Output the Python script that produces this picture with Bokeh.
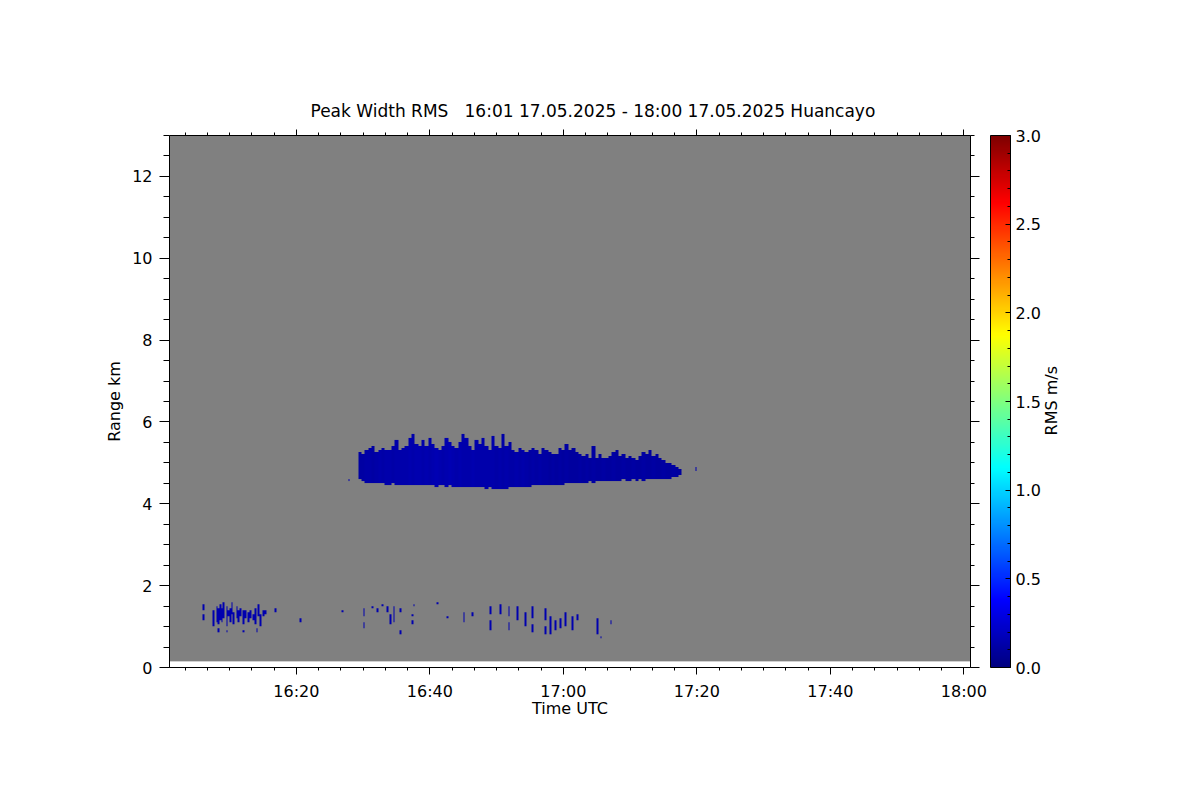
import numpy as np
from bokeh.plotting import figure
from bokeh.models import (LinearAxis, FixedTicker, ColorBar, LinearColorMapper,
                          Range1d, PrintfTickFormatter, CustomJSTickFormatter)
from bokeh.embed import file_html
from bokeh.resources import INLINE

NB = "\u00a0"
TITLE = "Peak Width RMS" + NB * 3 + "16:01 17.05.2025 - 18:00 17.05.2025 Huancayo"
X_LABEL = "Time UTC"
Y_LABEL = "Range km"
CB_LABEL = "RMS m/s"

# ---- extents: time in minutes after 16:00 UTC, range in km ----
time_start_min = 1.0      # 16:01
time_end_min = 121.0      # 18:01
range_min_km = 0.0
range_max_km = 13.0
gate_first_km = 0.15      # first range gate
time_step_min = 0.25
gate_step_km = 0.05

x_tick_min = [20, 40, 60, 80, 100, 120]
x_tick_labels = ["16:20", "16:40", "17:00", "17:20", "17:40", "18:00"]
y_tick_km = [0, 2, 4, 6, 8, 10, 12]
rms_ticks = [0.0, 0.5, 1.0, 1.5, 2.0, 2.5, 3.0]
rms_low, rms_high = 0.0, 3.0

# ---- main cloud layer (~4.4-5.7 km), 0.5-min bins from 16:29.5 ----
layer_start_min = 29.5
layer_bin_min = 0.5
layer_top_km = [
    5.27, 5.22, 5.30, 5.36, 5.39, 5.25, 5.30, 5.34, 5.32, 5.28,
    5.40, 5.56, 5.30, 5.36, 5.42, 5.58, 5.70, 5.45, 5.40, 5.56,
    5.38, 5.58, 5.45, 5.36, 5.30, 5.42, 5.61, 5.50, 5.41, 5.34,
    5.48, 5.71, 5.60, 5.38, 5.30, 5.56, 5.44, 5.58, 5.40, 5.32,
    5.66, 5.42, 5.36, 5.68, 5.40, 5.49, 5.30, 5.26, 5.37, 5.30,
    5.25, 5.30, 5.35, 5.28, 5.22, 5.33, 5.30, 5.25, 5.20, 5.18,
    5.35, 5.30, 5.46, 5.30, 5.33, 5.25, 5.20, 5.15, 5.20, 5.10,
    5.40, 5.12, 5.20, 5.10, 5.08, 5.17, 5.25, 5.32, 5.15, 5.20,
    5.10, 5.17, 5.12, 5.05, 5.15, 5.25, 5.20, 5.31, 5.15, 5.20,
    5.10, 5.05, 5.00, 4.98, 4.96, 4.90, 4.85,
]
layer_base_km = [
    4.62, 4.56, 4.52, 4.50, 4.52, 4.50, 4.48, 4.50, 4.47, 4.46,
    4.48, 4.46, 4.45, 4.46, 4.44, 4.46, 4.45, 4.44, 4.46, 4.44,
    4.45, 4.43, 4.44, 4.42, 4.44, 4.43, 4.42, 4.44, 4.42, 4.41,
    4.42, 4.40, 4.41, 4.39, 4.40, 4.38, 4.40, 4.38, 4.37, 4.38,
    4.36, 4.37, 4.35, 4.34, 4.36, 4.38, 4.40, 4.41, 4.40, 4.42,
    4.41, 4.42, 4.43, 4.44, 4.43, 4.44, 4.45, 4.44, 4.45, 4.46,
    4.45, 4.47, 4.48, 4.50, 4.49, 4.50, 4.52, 4.50, 4.52, 4.53,
    4.52, 4.54, 4.53, 4.55, 4.56, 4.55, 4.56, 4.57, 4.56, 4.58,
    4.56, 4.57, 4.58, 4.57, 4.58, 4.57, 4.58, 4.60, 4.58, 4.60,
    4.60, 4.62, 4.60, 4.62, 4.64, 4.66, 4.68,
]
layer_rms = [
    0.11, 0.11, 0.12, 0.12, 0.11, 0.12, 0.13, 0.12, 0.13, 0.13,
    0.12, 0.13, 0.14, 0.13, 0.14, 0.15, 0.14, 0.15, 0.15, 0.14,
    0.15, 0.14, 0.15, 0.16, 0.15, 0.14, 0.15, 0.16, 0.15, 0.14,
    0.15, 0.14, 0.13, 0.14, 0.15, 0.14, 0.13, 0.14, 0.13, 0.14,
    0.13, 0.12, 0.13, 0.12, 0.13, 0.12, 0.12, 0.13, 0.12, 0.13,
    0.12, 0.11, 0.12, 0.11, 0.12, 0.11, 0.11, 0.10, 0.11, 0.10,
    0.11, 0.10, 0.11, 0.10, 0.10, 0.10, 0.11, 0.10, 0.11, 0.10,
    0.11, 0.10, 0.10, 0.11, 0.10, 0.10, 0.11, 0.10, 0.10, 0.11,
    0.10, 0.10, 0.11, 0.10, 0.10, 0.11, 0.10, 0.10, 0.11, 0.10,
    0.10, 0.11, 0.10, 0.10, 0.11, 0.10, 0.10,
]

# ---- sparse echoes (boundary layer ~1-1.5 km and isolated cells) ----
echo_t_min = [
    6.1, 6.1, 7.7, 8.0, 8.3, 8.6, 8.9, 9.2, 9.5, 9.8, 10.1, 10.4, 10.7, 11.0,
    11.3, 11.7, 12.0, 12.4, 12.8, 13.1, 13.5, 13.9, 14.3, 14.6, 15.0, 15.4,
    16.9, 8.4, 9.6, 12.0, 14.0, 20.6, 26.8, 30.2, 30.2, 31.4, 32.0, 32.9,
    33.7, 34.1, 34.7, 35.5, 35.5, 37.4, 37.4, 37.6, 41.1, 42.6, 45.2, 46.4,
    49.1, 49.1, 50.6, 51.8, 51.8, 53.1, 54.3, 55.4, 55.4, 57.3, 57.3, 58.1,
    58.8, 59.6, 60.3, 61.4, 62.1, 65.1, 65.6, 67.1, 27.8, 79.9,
]
echo_bottom_km = [
    1.15, 1.40, 1.00, 1.10, 1.05, 1.15, 1.08, 1.20, 1.00, 1.25, 1.10, 1.30, 1.05, 1.20,
    1.12, 1.25, 1.05, 1.20, 1.10, 1.20, 1.15, 1.05, 1.25, 1.00, 1.25, 1.30,
    1.35, 0.86, 0.86, 0.86, 0.86, 1.12, 1.36, 1.27, 0.95, 1.45, 1.35, 1.50,
    1.35, 1.05, 1.10, 1.35, 0.82, 1.25, 1.05, 1.50, 1.53, 1.20, 1.12, 1.27,
    0.92, 1.30, 1.32, 0.92, 1.25, 1.15, 1.02, 0.85, 1.20, 0.78, 1.15, 0.78,
    0.90, 0.95, 1.02, 0.90, 1.15, 0.78, 0.68, 1.07, 4.55, 4.78,
]
echo_top_km = [
    1.30, 1.56, 1.40, 1.50, 1.46, 1.55, 1.44, 1.58, 1.50, 1.40, 1.45, 1.58, 1.35, 1.52,
    1.40, 1.45, 1.38, 1.40, 1.35, 1.42, 1.32, 1.45, 1.55, 1.30, 1.40, 1.40,
    1.45, 0.93, 0.92, 0.92, 0.93, 1.18, 1.42, 1.46, 1.10, 1.52, 1.45, 1.56,
    1.50, 1.30, 1.50, 1.45, 0.88, 1.32, 1.15, 1.56, 1.59, 1.26, 1.37, 1.37,
    1.15, 1.50, 1.56, 1.10, 1.50, 1.50, 1.37, 1.05, 1.50, 1.00, 1.46, 1.27,
    1.15, 1.22, 1.34, 1.27, 1.32, 1.22, 0.74, 1.13, 4.62, 4.90,
]
echo_rms = [0.15] * len(echo_t_min)

# ---- jet colormap ----
def jet(n):
    cols = []
    for i in range(n):
        v = i / (n - 1)
        r = min(max(1.5 - abs(4 * v - 3), 0), 1)
        g = min(max(1.5 - abs(4 * v - 2), 0), 1)
        b = min(max(1.5 - abs(4 * v - 1), 0), 1)
        cols.append("#%02x%02x%02x" % (int(r * 255), int(g * 255), int(b * 255)))
    return cols

palette = jet(256)
mapper = LinearColorMapper(palette=palette, low=rms_low, high=rms_high, nan_color="#808080")

# ---- build the range-time image from the arrays ----
nx = int(round((time_end_min - time_start_min) / time_step_min))
ny = int(round((range_max_km - gate_first_km) / gate_step_km))
tc = time_start_min + (np.arange(nx) + 0.5) * time_step_min
rc = gate_first_km + (np.arange(ny) + 0.5) * gate_step_km
grid = np.full((ny, nx), np.nan)
for i, (top, base, v) in enumerate(zip(layer_top_km, layer_base_km, layer_rms)):
    t = layer_start_min + i * layer_bin_min
    cols = (tc >= t - layer_bin_min / 2) & (tc < t + layer_bin_min / 2)
    rows = (rc >= base) & (rc <= top)
    grid[np.ix_(rows, cols)] = v
for t, b, top, v in zip(echo_t_min, echo_bottom_km, echo_top_km, echo_rms):
    col = int((t - time_start_min) // time_step_min)
    rows = (rc >= b) & (rc <= top)
    grid[rows, col] = v

FONT = "DejaVu Sans"
FS = "16px"

p = figure(frame_width=801, frame_height=532,
           min_border_left=169, min_border_right=222,
           min_border_top=135, min_border_bottom=125,
           x_range=Range1d(time_start_min, time_end_min),
           y_range=Range1d(range_min_km, range_max_km),
           output_backend="svg", toolbar_location=None,
           x_axis_location=None, y_axis_location=None)
p.background_fill_color = "white"
p.border_fill_color = "white"
p.outline_line_color = None
p.xgrid.grid_line_color = None
p.ygrid.grid_line_color = None

p.image(image=[grid], x=time_start_min, y=gate_first_km,
        dw=time_end_min - time_start_min, dh=range_max_km - gate_first_km,
        color_mapper=mapper)

x_minor = list(np.arange(0, 122, 20 / 6))
y_minor = list(np.arange(0, 13.01, 0.5))
xt = FixedTicker(ticks=x_tick_min, minor_ticks=x_minor)
yt = FixedTicker(ticks=y_tick_km, minor_ticks=y_minor)
blank = CustomJSTickFormatter(code="return ''")


def style(ax, major, minor):
    ax.axis_line_color = "black"
    ax.major_tick_line_color = "black"
    ax.minor_tick_line_color = "black"
    ax.major_tick_in = 0
    ax.minor_tick_in = 0
    ax.major_tick_out = major
    ax.minor_tick_out = minor
    ax.major_label_text_font = FONT
    ax.major_label_text_font_size = FS
    ax.major_label_text_color = "black"
    ax.axis_label_text_font = FONT
    ax.axis_label_text_font_size = FS
    ax.axis_label_text_font_style = "normal"
    ax.axis_label_text_color = "black"


xb = LinearAxis(ticker=xt, axis_label=X_LABEL,
                major_label_overrides={v: s for v, s in zip(x_tick_min, x_tick_labels)})
style(xb, 7, 3)
xb.major_label_standoff = 7
xb.axis_label_standoff = -5
p.add_layout(xb, "below")

xa = LinearAxis(ticker=xt, formatter=blank)
style(xa, 6, 3)
xa.major_label_standoff = 0
p.add_layout(xa, "above")

yl = LinearAxis(ticker=yt, axis_label=Y_LABEL)
style(yl, 10, 6)
yl.major_label_standoff = 7
yl.axis_label_standoff = 5
p.add_layout(yl, "left")

yr = LinearAxis(ticker=yt, formatter=blank)
style(yr, 9, 4)
yr.major_label_standoff = 0
p.add_layout(yr, "right")

cb = ColorBar(color_mapper=LinearColorMapper(palette=palette, low=rms_low, high=rms_high),
              ticker=FixedTicker(ticks=rms_ticks, minor_ticks=list(np.arange(0, 3.01, 0.1))),
              formatter=PrintfTickFormatter(format="%.1f"),
              width=20, height=532, padding=0, margin=0, location=(11, 0),
              major_tick_in=5, major_tick_out=0, minor_tick_in=3, minor_tick_out=0,
              major_tick_line_color="black", minor_tick_line_color="black",
              bar_line_color="black", label_standoff=5,
              major_label_text_font=FONT, major_label_text_font_size=FS,
              major_label_text_color="black",
              background_fill_alpha=0, border_line_color=None)
p.add_layout(cb, "right")

# colour-bar caption, drawn as the single rotated label of an otherwise bare axis
# (the rotated label starts at its tick, so the tick sits half a caption below mid-height)
cb_label_y = (range_min_km + range_max_km) / 2 - 0.83
cap = LinearAxis(ticker=FixedTicker(ticks=[cb_label_y], minor_ticks=[]),
                 major_label_overrides={cb_label_y: CB_LABEL})
cap.axis_line_color = None
cap.major_tick_line_color = None
cap.minor_tick_line_color = None
cap.major_tick_out = 0
cap.major_tick_in = 0
cap.major_label_orientation = np.pi / 2
cap.major_label_text_font = FONT
cap.major_label_text_font_size = FS
cap.major_label_text_color = "black"
cap.major_label_standoff = 8
p.add_layout(cap, "right")

p.title.text = TITLE
p.title.text_font = FONT
p.title.text_font_size = "17px"
p.title.text_font_style = "normal"
p.title.text_color = "black"
p.title.align = "left"
p.title.offset = 141
p.title.standoff = 18

open("out.html", "w").write(file_html(p, INLINE))
